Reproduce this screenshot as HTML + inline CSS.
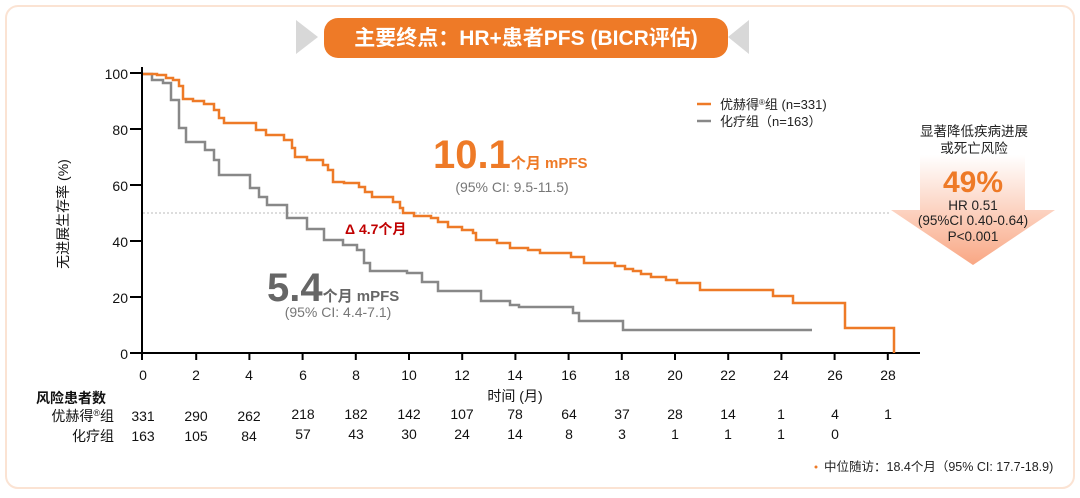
<!DOCTYPE html><html><head><meta charset="utf-8"><style>
body{margin:0;width:1080px;height:493px;background:#fff;overflow:hidden;font-family:"Liberation Sans","Noto Sans CJK SC",sans-serif}
</style></head><body>
<svg width="1080" height="493" xmlns="http://www.w3.org/2000/svg" font-family="Liberation Sans, Noto Sans CJK SC, sans-serif">
<defs><linearGradient id="g" x1="0" y1="0" x2="0" y2="1"><stop offset="0" stop-color="#fff"/><stop offset="1" stop-color="#f9a784"/></linearGradient></defs>
<rect x="6" y="6" width="1068" height="482" rx="12" fill="#fff" stroke="#fbe3d3" stroke-width="2"/>
<polygon points="296,20 318,37 296,54" fill="#d8d8d8"/>
<polygon points="749,20 728,37 749,54" fill="#d8d8d8"/>
<rect x="324" y="18" width="404" height="40" rx="14" fill="#ee7a27"/>
<text x="526" y="45" fill="#fff" font-size="21" font-weight="bold" text-anchor="middle">主要终点：HR+患者PFS (BICR评估)</text>
<line x1="143" y1="213" x2="890" y2="213" stroke="#bbb" stroke-dasharray="2,2"/>
<g stroke="#000" stroke-width="2"><line x1="142" y1="67" x2="142" y2="355"/><line x1="130" y1="353" x2="920" y2="353"/>
<line x1="130" y1="73" x2="142" y2="73"/><line x1="130" y1="129" x2="142" y2="129"/><line x1="130" y1="185" x2="142" y2="185"/><line x1="130" y1="241" x2="142" y2="241"/><line x1="130" y1="297" x2="142" y2="297"/>
<line x1="142" y1="353" x2="142" y2="360"/><line x1="196.2" y1="353" x2="196.2" y2="360"/><line x1="249.4" y1="353" x2="249.4" y2="360"/><line x1="302.6" y1="353" x2="302.6" y2="360"/><line x1="355.8" y1="353" x2="355.8" y2="360"/><line x1="409" y1="353" x2="409" y2="360"/><line x1="462.2" y1="353" x2="462.2" y2="360"/><line x1="515.4" y1="353" x2="515.4" y2="360"/><line x1="568.6" y1="353" x2="568.6" y2="360"/><line x1="621.8" y1="353" x2="621.8" y2="360"/><line x1="675" y1="353" x2="675" y2="360"/><line x1="728.2" y1="353" x2="728.2" y2="360"/><line x1="781.4" y1="353" x2="781.4" y2="360"/><line x1="834.6" y1="353" x2="834.6" y2="360"/><line x1="887.8" y1="353" x2="887.8" y2="360"/>
</g>
<g font-size="14" fill="#111" text-anchor="end">
<text x="128" y="79">100</text><text x="128" y="135">80</text><text x="128" y="191">60</text><text x="128" y="247">40</text><text x="128" y="303">20</text><text x="128" y="359">0</text></g>
<g font-size="14" fill="#111" text-anchor="middle">
<text x="143" y="380">0</text><text x="196" y="380">2</text><text x="249" y="380">4</text><text x="303" y="380">6</text><text x="356" y="380">8</text><text x="409" y="380">10</text><text x="462" y="380">12</text><text x="515" y="380">14</text><text x="569" y="380">16</text><text x="622" y="380">18</text><text x="675" y="380">20</text><text x="728" y="380">22</text><text x="781" y="380">24</text><text x="835" y="380">26</text><text x="888" y="380">28</text>
<text x="515" y="401">时间 (月)</text>
</g>
<text transform="translate(68,214) rotate(-90)" font-size="14" fill="#111" text-anchor="middle">无进展生存率 (%)</text>
<path d="M143,74 H152 V80 H163 V83 H171 V100 H179 V128 H186 V142 H205 V150 H214 V160 H219 V175 H250 V188 H259 V197 H267 V205 H287 V218 H307 V229 H324 V240 H343 V245 H357 V250 H364 V263 H370 V271 H407 V273 H422 V282 H438 V291 H481 V301 H510 V305 H519 V307 H573 V313 H579 V321 H623 V330 H812" fill="none" stroke="#888" stroke-width="2.5"/>
<path d="M143,74 H157 V75 H166 V78 H173 V80 H179 V86 H183 V99 H193 V101 H204 V104 H214 V110 H219 V118 H224 V123 H256 V130 H266 V135 H284 V140 H292 V148 H295 V157 H307 V160 H323 V165 H328 V170 H333 V182 H344 V183 H359 V187 H365 V192 H372 V197 H393 V202 H400 V208 H403 V213 H414 V216 H431 V218 H438 V222 H448 V227 H462 V230 H473 V233 H476 V240 H497 V243 H510 V248 H528 V250 H540 V253 H571 V257 H584 V263 H615 V266 H625 V269 H633 V271 H641 V274 H651 V277 H666 V280 H677 V283 H700 V290 H773 V296 H793 V303 H845 V328 H894 V353" fill="none" stroke="#ee7a27" stroke-width="2.5"/>
<line x1="697" y1="104" x2="711" y2="104" stroke="#ee7a27" stroke-width="2.5"/>
<line x1="697" y1="121" x2="711" y2="121" stroke="#888" stroke-width="2.5"/>
<text x="720" y="109" font-size="13" fill="#222">优赫得<tspan font-size="8" dy="-4">®</tspan><tspan dy="4">组 (n=331)</tspan></text>
<text x="720" y="126" font-size="13" fill="#222">化疗组（n=163）</text>
<text x="433" y="168" font-size="40" font-weight="bold" fill="#ee7a27">10.1<tspan font-size="15">个月 mPFS</tspan></text>
<text x="512" y="192" font-size="14" fill="#777" text-anchor="middle">(95% CI: 9.5-11.5)</text>
<text x="345" y="234" font-size="14" font-weight="bold" fill="#c00000">Δ 4.7个月</text>
<text x="267" y="301" font-size="40" font-weight="bold" fill="#666">5.4<tspan font-size="15">个月 mPFS</tspan></text>
<text x="338" y="317" font-size="14" fill="#777" text-anchor="middle">(95% CI: 4.4-7.1)</text>
<polygon points="920,155 1025,155 1025,210 1055,210 973,265 891,210 920,210" fill="url(#g)"/>
<g text-anchor="middle" fill="#222" font-size="13.5"><text x="974" y="136">显著降低疾病进展</text><text x="974" y="153">或死亡风险</text>
<text x="973" y="192" font-size="30" font-weight="bold" fill="#ee7a27">49%</text>
<text x="973" y="210">HR 0.51</text><text x="973" y="225">(95%CI 0.40-0.64)</text><text x="973" y="241">P&lt;0.001</text></g>
<text x="36" y="403" font-size="14" font-weight="bold" fill="#111">风险患者数</text>
<text x="114" y="421" font-size="14" fill="#111" text-anchor="end">优赫得<tspan font-size="9" dy="-5">®</tspan><tspan dy="5">组</tspan></text>
<text x="114" y="441" font-size="14" fill="#111" text-anchor="end">化疗组</text>
<g font-size="14" fill="#111" text-anchor="middle">
<text x="143" y="421">331</text><text x="196" y="421">290</text><text x="249" y="421">262</text><text x="303" y="419">218</text><text x="356" y="419">182</text><text x="409" y="419">142</text><text x="462" y="419">107</text><text x="515" y="419">78</text><text x="569" y="419">64</text><text x="622" y="419">37</text><text x="675" y="419">28</text><text x="728" y="419">14</text><text x="781" y="419">1</text><text x="835" y="419">4</text><text x="888" y="419">1</text>
<text x="143" y="441">163</text><text x="196" y="441">105</text><text x="249" y="441">84</text><text x="303" y="439">57</text><text x="356" y="439">43</text><text x="409" y="439">30</text><text x="462" y="439">24</text><text x="515" y="439">14</text><text x="569" y="439">8</text><text x="622" y="439">3</text><text x="675" y="439">1</text><text x="728" y="439">1</text><text x="781" y="439">1</text><text x="835" y="439">0</text>
</g>
<circle cx="816" cy="467" r="1.5" fill="#ee7a27"/>
<text x="824" y="471" font-size="12.5" fill="#222">中位随访：18.4个月（95% CI: 17.7-18.9)</text>
</svg>
</body></html>
